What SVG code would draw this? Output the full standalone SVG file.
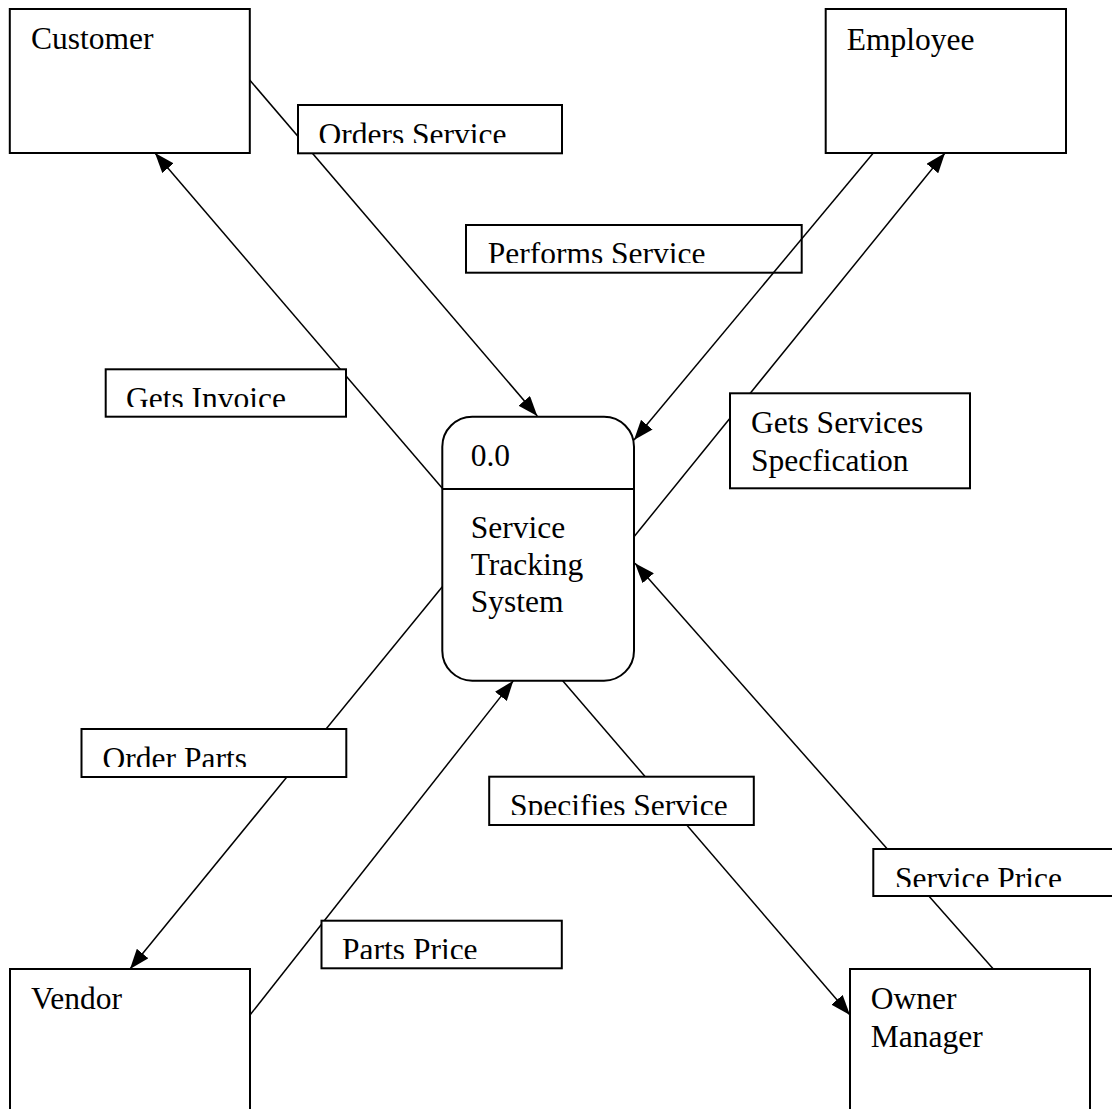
<svg xmlns="http://www.w3.org/2000/svg" width="1112" height="1109" viewBox="0 0 1112 1109">
  <style>
    text { font-family: "Liberation Serif", "Times New Roman", serif; font-size: 31.5px; fill: #000; }
    .entity { fill: #fff; stroke: #000; stroke-width: 2; }
    .process { fill: #fff; stroke: #000; stroke-width: 2; }
    .label-box { fill: #fff; stroke: #000; stroke-width: 2; }
    .flow { fill: none; stroke: #000; stroke-width: 1.5; marker-end: url(#arrow); }
  </style>
  <defs>
    <marker id="arrow" markerUnits="userSpaceOnUse" viewBox="0 0 20 15" refX="20" refY="7.5" markerWidth="20" markerHeight="15" orient="auto">
      <path d="M0,0 L20,7.5 L0,15 z" fill="#000"/>
    </marker>
    <!-- flow label text is cut off just above the bottom edge of its box -->
    <clipPath id="clip-orders" clipPathUnits="userSpaceOnUse"><rect x="298" y="105" width="264" height="38"/></clipPath>
    <clipPath id="clip-performs" clipPathUnits="userSpaceOnUse"><rect x="466" y="225" width="336" height="38"/></clipPath>
    <clipPath id="clip-invoice" clipPathUnits="userSpaceOnUse"><rect x="106" y="369" width="240" height="38"/></clipPath>
    <clipPath id="clip-orderparts" clipPathUnits="userSpaceOnUse"><rect x="81.5" y="729" width="265" height="38"/></clipPath>
    <clipPath id="clip-specifies" clipPathUnits="userSpaceOnUse"><rect x="489" y="777" width="265" height="38"/></clipPath>
    <clipPath id="clip-serviceprice" clipPathUnits="userSpaceOnUse"><rect x="873" y="849" width="250" height="38"/></clipPath>
    <clipPath id="clip-partsprice" clipPathUnits="userSpaceOnUse"><rect x="321.5" y="921" width="240" height="38"/></clipPath>
  </defs>

  <rect width="1112" height="1109" fill="#fff"/>

  <!-- this label sits under its flow line, which crosses its right end -->
  <g id="label-performs-service">
    <rect class="label-box" x="466" y="225" width="335.7" height="47.7"/>
    <text x="487.7" y="264" clip-path="url(#clip-performs)">Performs Service</text>
  </g>

  <!-- data flows -->
  <g id="connectors">
    <line class="flow" x1="249.7" y1="80" x2="537.3" y2="416"/>
    <line class="flow" x1="442.3" y1="488.3" x2="155" y2="153"/>
    <line class="flow" x1="873.3" y1="153" x2="634" y2="440"/>
    <line class="flow" x1="634" y1="536.7" x2="945" y2="153"/>
    <line class="flow" x1="442.3" y1="586.7" x2="130" y2="969"/>
    <line class="flow" x1="250" y1="1015" x2="513.3" y2="680.7"/>
    <line class="flow" x1="562.7" y1="680.7" x2="850" y2="1015"/>
    <line class="flow" x1="993.3" y1="969" x2="635" y2="563.3"/>
  </g>

  <!-- external entities -->
  <g id="customer">
    <rect class="entity" x="9.8" y="9" width="240" height="144"/>
    <text x="31" y="49">Customer</text>
  </g>
  <g id="employee">
    <rect class="entity" x="825.7" y="9" width="240.3" height="144"/>
    <text x="846.7" y="50">Employee</text>
  </g>
  <g id="vendor">
    <rect class="entity" x="10" y="969" width="240" height="160"/>
    <text x="31" y="1009.3">Vendor</text>
  </g>
  <g id="owner-manager">
    <rect class="entity" x="850" y="969" width="240" height="160"/>
    <text x="870.7" y="1009.3">Owner</text>
    <text x="870.7" y="1046.7">Manager</text>
  </g>

  <!-- process -->
  <g id="process-0">
    <rect class="process" x="442.3" y="416.7" width="191.7" height="264" rx="30" ry="30"/>
    <line x1="442.3" y1="489" x2="634" y2="489" stroke="#000" stroke-width="2"/>
    <text x="470.7" y="466">0.0</text>
    <text x="470.7" y="538.3">Service</text>
    <text x="470.7" y="575">Tracking</text>
    <text x="470.7" y="612.3">System</text>
  </g>

  <!-- flow labels -->
  <g id="label-orders-service">
    <rect class="label-box" x="298" y="105" width="264" height="48.3"/>
    <text x="318.5" y="145" clip-path="url(#clip-orders)">Orders Service</text>
  </g>
  <g id="label-gets-invoice">
    <rect class="label-box" x="105.7" y="369.3" width="240.3" height="47.4"/>
    <text x="126" y="409" clip-path="url(#clip-invoice)">Gets Invoice</text>
  </g>
  <g id="label-gets-services-specification">
    <rect class="label-box" x="730" y="393.3" width="240" height="95"/>
    <text x="751" y="433.3">Gets Services</text>
    <text x="751" y="470.7">Specfication</text>
  </g>
  <g id="label-order-parts">
    <rect class="label-box" x="81.5" y="729" width="264.8" height="48"/>
    <text x="102.6" y="768.5" clip-path="url(#clip-orderparts)">Order Parts</text>
  </g>
  <g id="label-specifies-service">
    <rect class="label-box" x="489.2" y="776.7" width="264.6" height="48.3"/>
    <text x="510" y="816" clip-path="url(#clip-specifies)">Specifies Service</text>
  </g>
  <g id="label-service-price">
    <rect class="label-box" x="873.3" y="849" width="250" height="47"/>
    <text x="895" y="888.5" clip-path="url(#clip-serviceprice)">Service Price</text>
  </g>
  <g id="label-parts-price">
    <rect class="label-box" x="321.5" y="920.7" width="240.3" height="47.6"/>
    <text x="342" y="960.3" clip-path="url(#clip-partsprice)">Parts Price</text>
  </g>
</svg>
